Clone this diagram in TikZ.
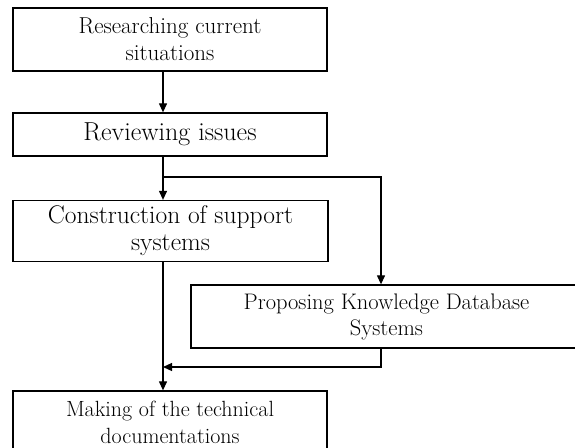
\documentclass[tikz,border=0pt]{standalone}
\usepackage{fontspec}
\usetikzlibrary{arrows.meta}
\tikzset{
  stage/.style={draw, rectangle, line width=1.3pt, align=center, inner sep=0pt},
  arr/.style={line width=1.2pt, -{Triangle[length=9pt,width=8pt]}},
  ln/.style={line width=1.2pt}
}
\begin{document}
\begin{tikzpicture}[x=1pt,y=-1pt]
\useasboundingbox (0,0) rectangle (575,447);
% stages
\node[stage, minimum width=314pt, minimum height=63pt, font=\fontsize{23}{27}\selectfont] (res) at (170,39.5){Researching current\\situations};
\node[stage, minimum width=314pt, minimum height=43pt, font=\fontsize{26}{27}\selectfont] (rev) at (170,134.5){Reviewing issues};
\node[stage, minimum width=315pt, minimum height=61pt, font=\fontsize{25.5}{27}\selectfont] (con) at (170.5,231){Construction of support\\systems};
\node[stage, minimum width=391pt, minimum height=63pt, font=\fontsize{22.5}{26}\selectfont] (kdb) at (386.5,316.5){Proposing Knowledge Database\\Systems};
\node[stage, minimum width=314pt, minimum height=62pt, font=\fontsize{22}{27}\selectfont] (mak) at (170,422){Making of the technical\\documentations};
% branch points
\coordinate (split) at (163,177);
\coordinate (join) at (163,367);
\coordinate (side) at (381,177);
% connectors
\draw[arr] (res.south -| split) -- (rev.north -| split);
\draw[arr] (rev.south -| split) -- (con.north -| split);
\draw[arr] (split) -- (side) -- (kdb.north -| side);
\draw[arr] (con.south -| split) -- (mak.north -| split);
\draw[arr] (kdb.south -| side) |- (join);
\end{tikzpicture}
\end{document}
